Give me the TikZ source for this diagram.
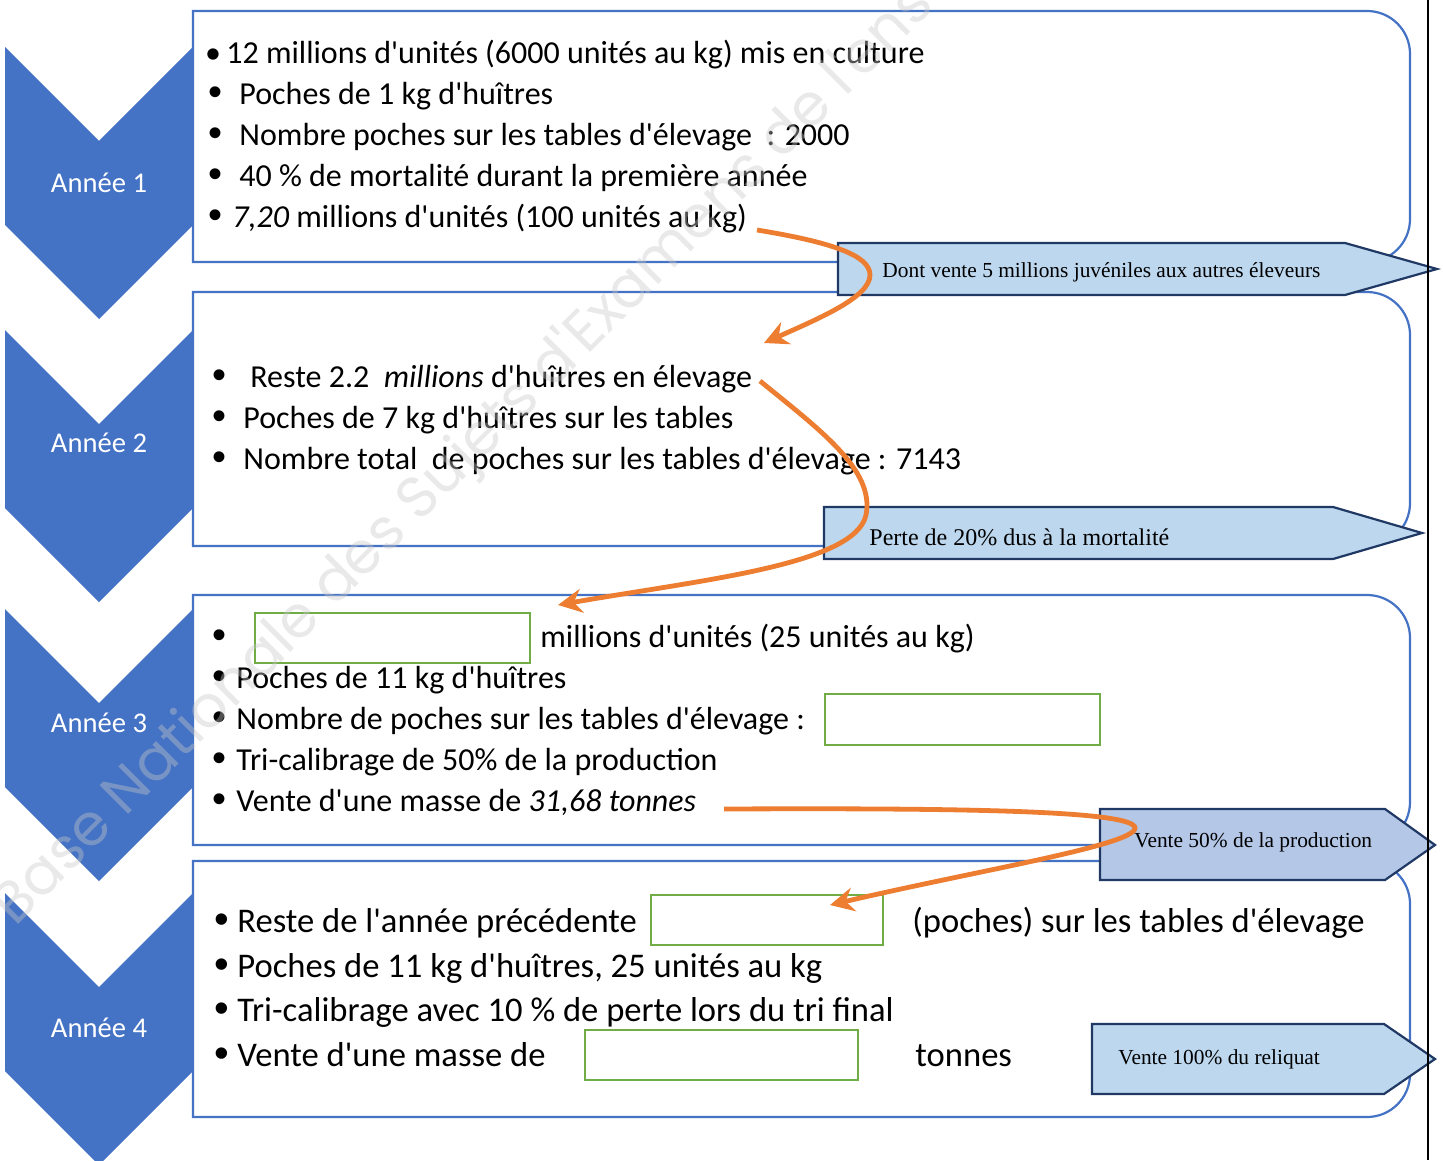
\documentclass[tikz,border=0pt]{standalone}
\usepackage{fontspec}
\newfontfamily\calfont{Carlito}
\newfontfamily\tnrfont{Liberation Serif}
\newfontfamily\arfont{Liberation Sans}
\newfontfamily\wmfont{Poppins}
\usetikzlibrary{arrows.meta}
\definecolor{chevblue}{HTML}{4472C4}
\definecolor{calfill}{HTML}{BDD7EE}
\definecolor{calfillb}{HTML}{B4C7E7}
\definecolor{calline}{HTML}{203864}
\definecolor{greenline}{HTML}{70AD47}
\definecolor{orangeline}{HTML}{ED7D31}
\definecolor{wmgray}{HTML}{C8C8C8}
\newcommand\bigbul{{\arfont\textbullet}}
\newcommand\yearbox[2]{%
  \draw[boxline] (193,#1) -- (1367,#1) .. controls (1390.75,#1) and (1410,{#1+19.25}) .. (1410,{#1+43})
    -- (1410,{#2-43}) .. controls (1410,{#2-19.25}) and (1390.75,#2) .. (1367,#2) -- (193,#2) -- cycle;}
\newcommand\chevron[1]{%
  \fill[chev] (5,#1) -- (99,{#1+94}) -- (193,#1) -- (193,{#1+178}) -- (99,{#1+272}) -- (5,{#1+178}) -- cycle;}
\begin{document}
\begin{tikzpicture}[x=0.5pt,y=-0.5pt,
  boxline/.style={draw=chevblue, line width=1.1pt, fill=white},
  chev/.style={fill=chevblue},
  yearlbl/.style={text=white, inner sep=0, font=\calfont\fontsize{14.3}{17}\selectfont},
  txt/.style={anchor=base west, inner sep=0, font=\calfont\fontsize{16}{19}\selectfont},
  txtb/.style={anchor=base west, inner sep=0, font=\calfont\fontsize{17.3}{20}\selectfont},
  bul/.style={anchor=base, inner sep=0, font=\fontsize{20}{22}\selectfont},
  bulb/.style={anchor=base, inner sep=0, font=\fontsize{21}{23}\selectfont},
  callshape/.style={draw=calline, line width=1.1pt, fill=calfill},
  calltxt/.style={anchor=base west, inner sep=0, font=\tnrfont\fontsize{10.7}{13}\selectfont},
  greenbox/.style={draw=greenline, line width=1.1pt},
  orangearrow/.style={draw=orangeline, line width=2.4pt, -{Stealth[length=12pt,width=12pt,inset=4pt]}}
]
\useasboundingbox (0,0) rectangle (1443,1160);
\fill[white] (0,0) rectangle (1443,1160);

% chevrons
\chevron{47}
\chevron{330}
\chevron{609}
\chevron{893}
\node[yearlbl] (y1) at (99,183) {Année 1};
\node[yearlbl] (y2) at (99,443) {Année 2};
\node[yearlbl] (y3) at (99,723) {Année 3};
\node[yearlbl] (y4) at (99,1028) {Année 4};

% boxes
\yearbox{11}{262}
\yearbox{292}{546}
\yearbox{595}{845}
\yearbox{861}{1117}

% callouts
\draw[callshape] (838,243) -- (1345,243) -- (1437,269) -- (1345,295) -- (838,295) -- cycle;
\node[calltxt] (c1) at (882,278) {Dont vente 5 millions juvéniles aux autres éleveurs};
\draw[callshape] (824,507) -- (1333,507) -- (1422,533) -- (1333,559) -- (824,559) -- cycle;
\node[calltxt, font=\tnrfont\fontsize{12}{14}\selectfont] (c2) at (869,545) {Perte de 20\% dus à la mortalité};
\draw[callshape, fill=calfillb] (1100,809) -- (1385,809) -- (1435,845) -- (1385,880) -- (1100,880) -- cycle;
\node[calltxt] (c3) at (1134,847) {Vente 50\% de la production};
\draw[callshape] (1092,1024) -- (1384,1024) -- (1435,1059) -- (1384,1094) -- (1092,1094) -- cycle;
\node[calltxt] (c4) at (1118,1064) {Vente 100\% du reliquat};

% green answer boxes
\draw[greenbox] (255,613) rectangle (530,663);
\draw[greenbox] (825,694) rectangle (1100,745);
\draw[greenbox] (651,895) rectangle (883,945);
\draw[greenbox] (585,1030) rectangle (858,1080);

% box 1 text
\node[bul, font=\calfont\fontsize{16}{19}\selectfont] (b11) at (213,64) {\textbullet};
\node[txt] (t11) at (226,64) {12 millions d'unités (6000 unités au kg) mis en culture};
\node[bul] (b12) at (215,106) {\bigbul};
\node[txt] (t12) at (239,105) {Poches de 1 kg d'huîtres};
\node[bul] (b13) at (215,147) {\bigbul};
\node[txt] (t13) at (239,146) {Nombre poches sur les tables d'élevage~~: 2000};
\node[bul] (b14) at (215,188) {\bigbul};
\node[txt] (t14) at (239,187) {40 \% de mortalité durant la première année};
\node[bul] (b15) at (215,229) {\bigbul};
\node[txt] (t15) at (232,228) {\textit{7,20} millions d'unités (100 unités au kg)};

% box 2 text
\node[bul] (b21) at (219,388) {\bigbul};
\node[txt] (t21) at (250,387) {Reste 2.2~~\textit{millions} d'huîtres en élevage};
\node[bul] (b22) at (219,429) {\bigbul};
\node[txt] (t22) at (243,428) {Poches de 7 kg d'huîtres sur les tables};
\node[bul] (b23) at (219,470) {\bigbul};
\node[txt] (t23) at (243,469) {Nombre total~~de poches sur les tables d'élevage : 7143};

% box 3 text
\node[bul] (b31) at (219,648) {\bigbul};
\node[txt] (t31) at (540,647) {millions d'unités (25 unités au kg)};
\node[bul] (b32) at (219,689) {\bigbul};
\node[txt] (t32) at (236,688) {Poches de 11 kg d'huîtres};
\node[bul] (b33) at (219,730) {\bigbul};
\node[txt] (t33) at (236,729) {Nombre de poches sur les tables d'élevage :};
\node[bul] (b34) at (219,771) {\bigbul};
\node[txt] (t34) at (236,770) {Tri-calibrage de 50\% de la production};
\node[bul] (b35) at (219,812) {\bigbul};
\node[txt] (t35) at (236,811) {Vente d'une masse de \textit{31,68 tonnes}};

% box 4 text
\node[bulb] (b41) at (222,933) {\bigbul};
\node[txtb] (t41) at (237,932) {Reste de l'année précédente};
\node[txtb] (t41b) at (912,932) {(poches) sur les tables d'élevage};
\node[bulb] (b42) at (222,978) {\bigbul};
\node[txtb] (t42) at (237,977) {Poches de 11 kg d'huîtres, 25 unités au kg};
\node[bulb] (b43) at (222,1022) {\bigbul};
\node[txtb] (t43) at (237,1021) {Tri-calibrage avec 10 \% de perte lors du tri final};
\node[bulb] (b44) at (222,1067) {\bigbul};
\node[txtb] (t44) at (237,1066) {Vente d'une masse de};
\node[txtb] (t44b) at (915,1066) {tonnes};

% right black line
\draw[line width=1.2pt] (1428,0) -- (1428,1160);

% orange arrows
\coordinate (o1s) at (757,230);
\coordinate (o1m) at (870,275);
\coordinate (o1e) at (764,343);
\draw[orangearrow] (o1s) .. controls (830,242) and (870,255) .. (o1m) .. controls (870,297) and (820,318) .. (o1e);
\coordinate (o2s) at (760,381);
\coordinate (o2m) at (866,515);
\coordinate (o2e) at (558,605);
\draw[orangearrow] (o2s) .. controls (820,430) and (875,470) .. (o2m) .. controls (855,565) and (700,580) .. (o2e);
\coordinate (o3s) at (724,809);
\coordinate (o3m) at (1135,828);
\coordinate (o3e) at (830,905);
\draw[orangearrow] (o3s) .. controls (950,808) and (1135,810) .. (o3m) .. controls (1135,845) and (980,870) .. (o3e);

% watermark
\node[anchor=base west, inner sep=0, rotate=45, text=wmgray, opacity=0.4,
  font=\wmfont\fontsize{29}{34}\selectfont] (wm) at (15,928)
  {Base Nationale des Sujets d'Examens de l'enseignement professionnel};
\end{tikzpicture}
\end{document}
